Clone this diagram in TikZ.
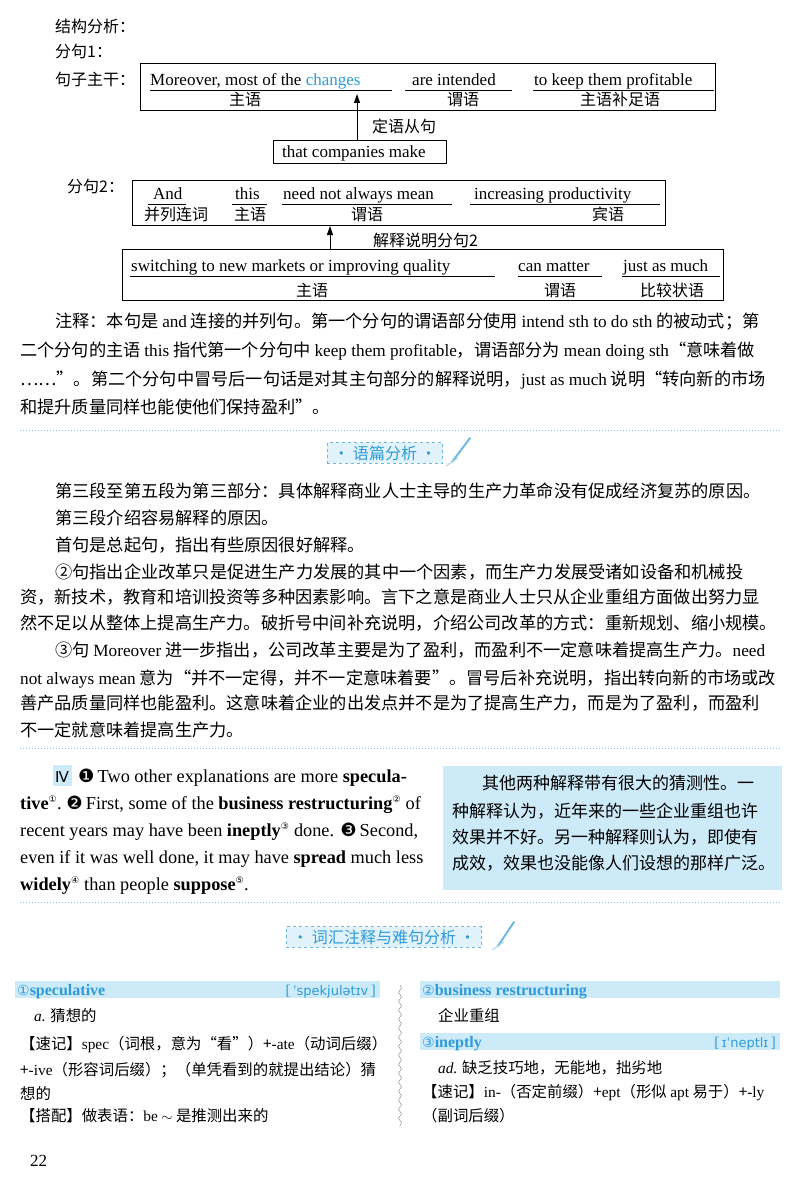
\documentclass[tikz,border=0pt]{standalone}
\usepackage{fontspec}
\setmainfont{Liberation Serif}
\newfontfamily\zh{Noto Sans CJK SC}
\newfontfamily\djv{DejaVu Sans}
\usetikzlibrary{decorations.pathmorphing,arrows.meta}
\definecolor{lb}{HTML}{CDEAF8}
\definecolor{bl}{HTML}{2E9BD6}
\newcommand{\en}[1]{{\rmfamily #1}}
\newcommand{\sn}[1]{\textsuperscript{\djv\fontsize{9}{9}\selectfont #1}}
\begin{document}
\begin{tikzpicture}[x=1pt,y=-1pt,
  zt/.style={font=\zh\fontsize{16}{18}\selectfont,anchor=base west,inner sep=0},
  zc/.style={font=\zh\fontsize{16}{18}\selectfont,anchor=base,inner sep=0},
  et/.style={font=\fontsize{17}{19}\selectfont,anchor=base west,inner sep=0},
  ep/.style={font=\fontsize{18.3}{19}\selectfont,anchor=base west,inner sep=0},
  vt/.style={font=\zh\fontsize{15.4}{18}\selectfont,anchor=base west,inner sep=0},
  bx/.style={draw,line width=0.9pt},
  ul/.style={line width=0.8pt},
  para/.style={font=\zh\fontsize{17.2}{18}\selectfont,anchor=base west,inner sep=0},
  dotl/.style={bl!60,dotted,line width=1pt},
  tag/.style={draw=bl!70,dashed,fill=lb!60,text=bl,font=\zh\fontsize{16}{18}\selectfont,inner xsep=6pt,inner ysep=3pt}]
\useasboundingbox (0,0) rectangle (800,1185);
% ---- structure
\node[zt] (t0) at (55,33) {结构分析：};
\node[zt] (t1) at (55,58) {分句1：};
\node[zt] (t2) at (55,86) {句子主干：};
\draw[bx] (140,63) rectangle (715,110);
\node[et] (m1) at (150,86) {Moreover, most of the \textcolor{bl}{changes}};
\node[et] (m2) at (412,86) {are intended};
\node[et] (m3) at (534,86) {to keep them profitable};
\draw[ul] (150,90)--(392,90) (405,90)--(512,90) (533,90)--(714,90);
\node[zc] (l1) at (245,106) {主语};
\node[zc] (l2) at (463,106) {谓语};
\node[zc] (l3) at (620,106) {主语补足语};
\draw[bx] (273,140) rectangle (446,163);
\node[et] (b2) at (282,158) {that companies make};
\coordinate (a1s) at (357,140);
\coordinate (a1e) at (357,94);
\draw[line width=1pt,-{Triangle[length=9pt,width=6pt]}] (a1s) -- (a1e);
\node[zt] (d1) at (372,133) {定语从句};
\node[zt] (t3) at (67,193) {分句2：};
\draw[bx] (132,180) rectangle (665,225);
\node[et] (n1) at (153,200) {And};
\node[et] (n2) at (235,200) {this};
\node[et] (n3) at (283,200) {need not always mean};
\node[et] (n4) at (474,200) {increasing productivity};
\draw[ul] (148,204)--(186,204) (232,204)--(267,204) (282,204)--(452,204) (470,204)--(660,204);
\node[zc] (k1) at (176,220) {并列连词};
\node[zc] (k2) at (250,220) {主语};
\node[zc] (k3) at (367,220) {谓语};
\node[zc] (k4) at (608,220) {宾语};
\draw[bx] (122,249) rectangle (723,300);
\node[et] (s1) at (131,271) {switching to new markets or improving quality};
\node[et] (s2) at (518,271) {can matter};
\node[et] (s3) at (623,271) {just as much};
\draw[ul] (130,276)--(495,276) (518,276)--(602,276) (622,276)--(720,276);
\node[zc] (r1) at (312,296) {主语};
\node[zc] (r2) at (560,296) {谓语};
\node[zc] (r3) at (672,296) {比较状语};
\coordinate (a2s) at (330,249);
\coordinate (a2e) at (330,226);
\draw[line width=1pt,-{Triangle[length=9pt,width=6pt]}] (a2s) -- (a2e);
\node[zt] (d2) at (373,246) {解释说明分句2};
% ---- notes
\node[para] (p1) at (55,327) {注释：本句是 \en{and} 连接的并列句。第一个分句的谓语部分使用 \en{intend sth to do sth} 的被动式；第};
\node[para] (p2) at (20,356) {二个分句的主语 \en{this} 指代第一个分句中 \en{keep them profitable}，谓语部分为 \en{mean doing sth}“意味着做};
\node[para] (p3) at (20,385) {……”。第二个分句中冒号后一句话是对其主句部分的解释说明，\en{just as much} 说明“转向新的市场};
\node[para] (p4) at (20,413) {和提升质量同样也能使他们保持盈利”。};
\draw[dotl] (20,430) -- (780,430);
\node[tag] (g1) at (385,453) {· 语篇分析 ·};
\draw[bl!70,line width=2pt,line cap=round] (452,462) -- (470,438);
\draw[bl!40,line width=1pt] (446,466) -- (458,458);
\node[para] (q1) at (55,497) {第三段至第五段为第三部分：具体解释商业人士主导的生产力革命没有促成经济复苏的原因。};
\node[para] (q2) at (55,524) {第三段介绍容易解释的原因。};
\node[para] (q3) at (55,551) {首句是总起句，指出有些原因很好解释。};
\node[para] (q4) at (55,578) {②句指出企业改革只是促进生产力发展的其中一个因素，而生产力发展受诸如设备和机械投};
\node[para] (q5) at (20,603) {资，新技术，教育和培训投资等多种因素影响。言下之意是商业人士只从企业重组方面做出努力显};
\node[para] (q6) at (20,629) {然不足以从整体上提高生产力。破折号中间补充说明，介绍公司改革的方式：重新规划、缩小规模。};
\node[para] (q7) at (55,656) {③句 \en{Moreover} 进一步指出，公司改革主要是为了盈利，而盈利不一定意味着提高生产力。\en{need}};
\node[para] (q8) at (20,684) {\en{not always mean} 意为“并不一定得，并不一定意味着要”。冒号后补充说明，指出转向新的市场或改};
\node[para] (q9) at (20,709) {善产品质量同样也能盈利。这意味着企业的出发点并不是为了提高生产力，而是为了盈利，而盈利};
\node[para] (q10) at (20,736) {不一定就意味着提高生产力。};
\draw[dotl] (20,748) -- (780,748);
% ---- section IV
\fill[lb] (53,765) rectangle (72,786);
\node[ep] (e1) at (55,782) {{\djv\fontsize{15}{15}\selectfont Ⅳ}\ \ {\djv ❶}\,Two other explanations are more \textbf{specula-}};
\node[ep] (e2) at (20,809) {\textbf{tive}\sn{①}.\ {\djv ❷}\,First, some of the \textbf{business restructuring}\sn{②} of};
\node[ep] (e3) at (20,836) {recent years may have been \textbf{ineptly}\sn{③} done. {\djv ❸}\,Second,};
\node[ep] (e4) at (20,863) {even if it was well done, it may have \textbf{spread} much less};
\node[ep] (e5) at (20,890) {\textbf{widely}\sn{④} than people \textbf{suppose}\sn{⑤}.};
\fill[lb] (443,766) rectangle (782,890);
\node[zt,font=\zh\fontsize{17}{18}\selectfont] (c1) at (482,789) {其他两种解释带有很大的猜测性。一};
\node[zt,font=\zh\fontsize{17}{18}\selectfont] (c2) at (452,817) {种解释认为，近年来的一些企业重组也许};
\node[zt,font=\zh\fontsize{17}{18}\selectfont] (c3) at (452,843) {效果并不好。另一种解释则认为，即使有};
\node[zt,font=\zh\fontsize{17}{18}\selectfont] (c4) at (452,869) {成效，效果也没能像人们设想的那样广泛。};
\draw[dotl] (20,902) -- (780,902);
\node[tag] (g2) at (384,937) {· 词汇注释与难句分析 ·};
\draw[bl!70,line width=2pt,line cap=round] (498,946) -- (514,922);
\draw[bl!40,line width=1pt] (492,950) -- (504,942);
% ---- vocabulary
\fill[lb] (15,981) rectangle (380,998);
\node[et,text=bl,font=\fontsize{16}{17}\selectfont] (v1) at (17,995) {{\djv\fontsize{14}{14}\selectfont ①}\textbf{speculative}};
\node[et,text=bl,font=\fontsize{15}{17}\selectfont,anchor=base east] (v1p) at (376,995) {[\,{\djv\fontsize{13}{14}\selectfont ˈspekjulətɪv}\,]};
\node[vt] (v2) at (34,1021) {\en{\itshape a.} 猜想的};
\node[vt] (v3) at (20,1049) {【速记】\en{spec}（词根，意为“看”）+\en{-ate}（动词后缀）};
\node[vt] (v4) at (20,1075) {+\en{-ive}（形容词后缀）；（单凭看到的就提出结论）猜};
\node[vt] (v5) at (20,1099) {想的};
\node[vt] (v6) at (20,1121) {【搭配】做表语：\en{be} \(\sim\) 是推测出来的};
\draw[gray,decorate,decoration={snake,amplitude=1.5pt,segment length=9pt}] (400,985) -- (400,1128);
\fill[lb] (420,981) rectangle (780,998);
\node[et,text=bl,font=\fontsize{16}{17}\selectfont] (w1) at (422,995) {{\djv\fontsize{14}{14}\selectfont ②}\textbf{business restructuring}};
\node[vt] (w2) at (438,1021) {企业重组};
\fill[lb] (420,1033) rectangle (780,1050);
\node[et,text=bl,font=\fontsize{16}{17}\selectfont] (w3) at (422,1047) {{\djv\fontsize{14}{14}\selectfont ③}\textbf{ineptly}};
\node[et,text=bl,font=\fontsize{15}{17}\selectfont,anchor=base east] (w3p) at (776,1047) {[\,{\djv\fontsize{13}{14}\selectfont ɪˈneptlɪ}\,]};
\node[vt] (w4) at (438,1073) {\en{\itshape ad.} 缺乏技巧地，无能地，拙劣地};
\node[vt] (w5) at (422,1097) {【速记】\en{in-}（否定前缀）+\en{ept}（形似 \en{apt} 易于）+\en{-ly}};
\node[vt] (w6) at (422,1121) {（副词后缀）};
\node[et] (pg) at (30,1166) {22};
\end{tikzpicture}
\end{document}
